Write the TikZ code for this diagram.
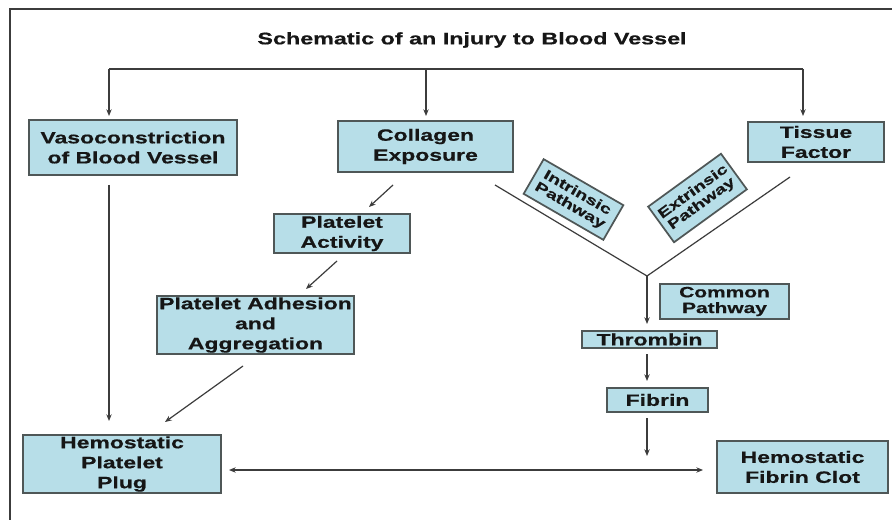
\documentclass[tikz,border=0pt]{standalone}
\usepackage{fontspec}
\setmainfont[FakeStretch=1.4, BoldFeatures={FakeBold=0.6}]{Liberation Sans}
\usetikzlibrary{arrows.meta}
\definecolor{boxfill}{HTML}{B7DEE8}
\definecolor{boxline}{HTML}{4F5757}
\definecolor{conn}{HTML}{3C3C3C}
\definecolor{txt}{HTML}{161616}
\tikzset{
  box/.style={draw=boxline, line width=1.3pt, fill=boxfill, inner sep=1pt,
    align=center, text=txt, font=\bfseries\fontsize{12.3}{15}\selectfont},
  bx/.style 2 args={box, minimum width=#1*0.75pt, minimum height=#2*0.75pt},
  conline/.style={draw=conn, line width=0.9pt},
  arr/.style={conline, -{Stealth[length=5pt,width=4pt]}},
  darr/.style={conline, {Stealth[length=5pt,width=4pt]}-{Stealth[length=5pt,width=4pt]}},
}
\begin{document}
\begin{tikzpicture}[x=0.75pt,y=-0.75pt]
\useasboundingbox (0,0) rectangle (892,520);
\fill[white] (0,0) rectangle (892,520);
% frame
\draw[draw=conn, line width=1.4pt] (10,521) -- (10,9) -- (893,9);
% title
\node[text=txt, font=\bfseries\fontsize{12.5}{15}\selectfont] (title) at (472,40) {Schematic of an Injury to Blood Vessel};
% boxes
\node[bx={208}{55}] (vaso) at (133,147.5) {Vasoconstriction\\of Blood Vessel};
\node[bx={175}{51}] (coll) at (425.5,146.5) {Collagen\\Exposure};
\node[bx={136}{40}] (tiss) at (816,142) {Tissue\\Factor};
\node[bx={136}{39}] (pact) at (342,233.5) {Platelet\\Activity};
\node[bx={197}{58}] (padh) at (255.5,325) {Platelet Adhesion\\and\\Aggregation};
\node[bx={198}{58}] (plug) at (122,464) {Hemostatic\\Platelet\\Plug};
\node[bx={129}{35}, font=\bfseries\fontsize{11.2}{11.8}\selectfont] (comm) at (724.5,301.5) {Common\\Pathway};
\node[bx={135}{17}] (thro) at (649.5,339.5) {Thrombin};
\node[bx={101}{24}] (fibr) at (657.5,400) {Fibrin};
\node[bx={171}{52}] (clot) at (802.5,467) {Hemostatic\\Fibrin Clot};
\node[bx={92}{40}, rotate=-30, font=\bfseries\fontsize{10.4}{11}\selectfont] (intr) at (573.5,199.5) {Intrinsic\\Pathway};
\node[bx={90}{44}, rotate=36, font=\bfseries\fontsize{10.4}{11}\selectfont] (extr) at (697.5,198) {Extrinsic\\Pathway};
% coordinates for connector ends
\coordinate (bl) at (109,69);
\coordinate (bm) at (426,69);
\coordinate (br) at (803,69);
\coordinate (tvaso) at (109,116);
\coordinate (tcoll) at (426,116);
\coordinate (ttiss) at (803,116);
\coordinate (svaso) at (109,185);
\coordinate (eplugv) at (109,421);
\coordinate (scoll) at (393,185);
\coordinate (epact) at (369,207);
\coordinate (spact) at (337,261);
\coordinate (epadh) at (306,289);
\coordinate (spadh) at (243,366);
\coordinate (epluga) at (165,422);
\coordinate (vl) at (495,185);
\coordinate (vr) at (790,177);
\coordinate (apex) at (647,276);
\coordinate (ethro) at (647,324);
\coordinate (sthro) at (647,354);
\coordinate (efibr) at (647,381);
\coordinate (sfibr) at (647,418);
\coordinate (efin) at (647,456);
\coordinate (hl) at (229,470);
\coordinate (hr) at (703,470);
% connectors
\draw[conline] (bl) -- (br);
\draw[arr] (bl) -- (tvaso);
\draw[arr] (bm) -- (tcoll);
\draw[arr] (br) -- (ttiss);
\draw[arr] (svaso) -- (eplugv);
\draw[arr] (scoll) -- (epact);
\draw[arr] (spact) -- (epadh);
\draw[arr] (spadh) -- (epluga);
\draw[conline] (vl) -- (apex) -- (vr);
\draw[arr] (apex) -- (ethro);
\draw[arr] (sthro) -- (efibr);
\draw[arr] (sfibr) -- (efin);
\draw[darr] (hl) -- (hr);
\end{tikzpicture}
\end{document}
